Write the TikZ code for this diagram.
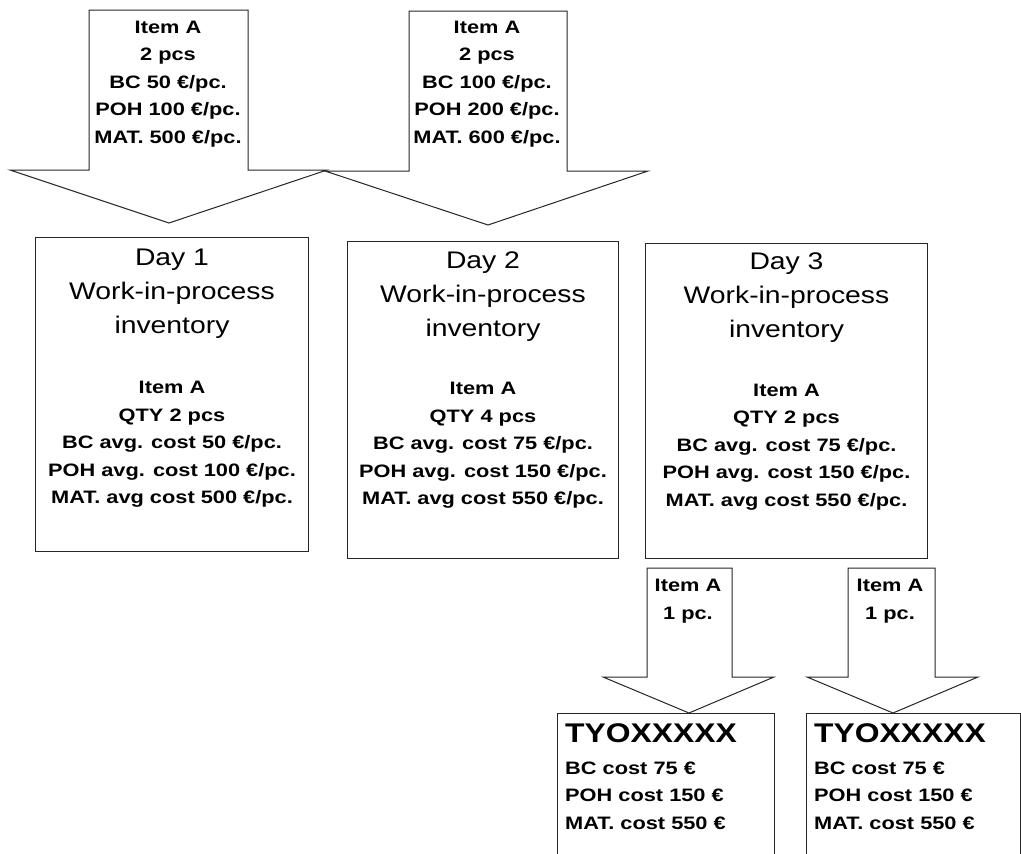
\documentclass[tikz,border=0pt]{standalone}
\usepackage{fontspec}
\setmainfont{Liberation Sans}[FakeStretch=1.18]
\newfontfamily\heavyfont{Liberation Sans}[FakeStretch=1.21]
\usetikzlibrary{calc}
\begin{document}
\begin{tikzpicture}[x=1pt,y=-1pt,
  outline/.style={draw=black!85, line width=1pt},
  bodytext/.style={inner sep=0pt, align=center, font=\heavyfont\bfseries\fontsize{18}{27.6}\selectfont},
  headtext/.style={inner sep=0pt, align=center, font=\fontsize{24}{34}\selectfont},
  codetext/.style={inner sep=0pt, anchor=west, font=\bfseries\fontsize{27}{30}\selectfont},
  costtext/.style={inner sep=0pt, anchor=west, align=left, font=\heavyfont\bfseries\fontsize{18}{27.5}\selectfont},
  wipbox/.style={outline, anchor=north west, inner sep=0pt}
]
\useasboundingbox[fill=white] (0,0) rectangle (1021,854);

% incoming block arrows (top)
\coordinate (tip1) at (169,223);
\coordinate (tip2) at (488,225);
\draw[outline] (89,10) -- (248,10) -- (248,170) -- (327,170) -- (tip1)
  -- (10,170) -- (89,170) -- cycle;
\draw[outline] (409,11) -- (567,11) -- (567,171) -- (648,171) -- (tip2)
  -- (325,171) -- (409,171) -- cycle;
\node[bodytext] (in1) at (168,84) {Item A\\2 pcs\\BC 50 €/pc.\\POH 100 €/pc.\\MAT. 500 €/pc.};
\node[bodytext] (in2) at (487,84) {Item A\\2 pcs\\BC 100 €/pc.\\POH 200 €/pc.\\MAT. 600 €/pc.};

% daily work-in-process boxes
\node[wipbox, minimum width=273pt, minimum height=314pt] (box1) at (35,237) {};
\node[wipbox, minimum width=271pt, minimum height=317pt] (box2) at (347,241) {};
\node[wipbox, minimum width=282pt, minimum height=315pt] (box3) at (645,243) {};

\node[headtext] (h1) at ($(box1.north)+(0,56.5)$) {Day 1\\Work-in-process\\inventory};
\node[headtext] (h2) at ($(box2.north)+(0,55.5)$) {Day 2\\Work-in-process\\inventory};
\node[headtext] (h3) at ($(box3.north)+(0,54.5)$) {Day 3\\Work-in-process\\inventory};

\node[bodytext] (d1) at ($(box1.north)+(0,207.5)$) {Item A\\QTY 2 pcs\\BC avg. cost 50 €/pc.\\POH avg. cost 100 €/pc.\\MAT. avg cost 500 €/pc.};
\node[bodytext] (d2) at ($(box2.north)+(0,204.5)$) {Item A\\QTY 4 pcs\\BC avg. cost 75 €/pc.\\POH avg. cost 150 €/pc.\\MAT. avg cost 550 €/pc.};
\node[bodytext] (d3) at ($(box3.north)+(0,204)$) {Item A\\QTY 2 pcs\\BC avg. cost 75 €/pc.\\POH avg. cost 150 €/pc.\\MAT. avg cost 550 €/pc.};

% outgoing block arrows (one piece each)
\coordinate (tipA) at (689,713);
\coordinate (tipB) at (893,713);
\draw[outline] (647,568) -- (732,568) -- (732,677) -- (774,677) -- (tipA)
  -- (603,677) -- (647,677) -- cycle;
\draw[outline] (848,568) -- (935,568) -- (935,677) -- (978,677) -- (tipB)
  -- (807,677) -- (848,677) -- cycle;
\node[bodytext] (outA) at (688,601) {Item A\\1 pc.};
\node[bodytext] (outB) at (890,601) {Item A\\1 pc.};

% order boxes (running off the bottom edge)
\coordinate (oA) at (557,713);
\coordinate (oB) at (806,713);
\draw[outline] (557,870) -- (oA) -- (774,713) -- (774,870);
\draw[outline] (806,870) -- (oB) -- (1020,713) -- (1020,870);

\node[codetext] (cA) at (565,733) {TYOXXXXX};
\node[costtext] (kA) at (565,795.5) {BC cost 75 €\\POH cost 150 €\\MAT. cost 550 €};
\node[codetext] (cB) at (814,733) {TYOXXXXX};
\node[costtext] (kB) at (814,795.5) {BC cost 75 €\\POH cost 150 €\\MAT. cost 550 €};
\end{tikzpicture}
\end{document}
